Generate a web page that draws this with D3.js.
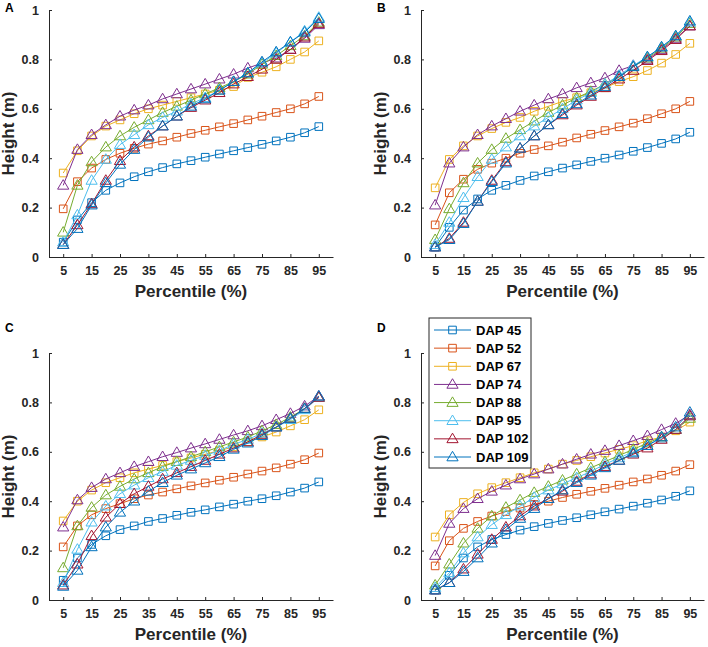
<!DOCTYPE html>
<html>
<head>
<meta charset="utf-8">
<script src="https://cdn.jsdelivr.net/npm/d3@7"></script>
<style>
  html, body { margin: 0; padding: 0; background: #fff; }
  svg { display: block; font-family: "Liberation Sans", Arial, sans-serif; }
</style>
</head>
<body>
<svg id="chart" width="708" height="647"></svg>
<script>
// ---------------- DATA ----------------
const percentiles = [5, 10, 15, 20, 25, 30, 35, 40, 45, 50, 55, 60, 65, 70, 75, 80, 85, 90, 95];
const xTicks = [5, 15, 25, 35, 45, 55, 65, 75, 85, 95];
const yTicks = [0, 0.2, 0.4, 0.6, 0.8, 1];
const seriesNames = ["DAP 45", "DAP 52", "DAP 67", "DAP 74", "DAP 88", "DAP 95", "DAP 102", "DAP 109"];
const seriesMarkers = ["square", "square", "square", "triangle", "triangle", "triangle", "triangle", "triangle"];
const seriesColors = ["#0072BD", "#D95319", "#EDB120", "#7E2F8E", "#77AC30", "#4DBEEE", "#A2142F", "#0072BD"];
const panelLetters = ["A", "B", "C", "D"];

// each panel: one row per series (DAP 45 ... DAP 109), values at each percentile
const panelA = [
  [0.06, 0.15, 0.22, 0.27, 0.30, 0.325, 0.345, 0.362, 0.377, 0.39, 0.404, 0.417, 0.43, 0.443, 0.456, 0.47, 0.485, 0.503, 0.528],
  [0.195, 0.305, 0.36, 0.395, 0.42, 0.44, 0.457, 0.47, 0.485, 0.50, 0.513, 0.527, 0.54, 0.555, 0.57, 0.585, 0.60, 0.62, 0.65],
  [0.34, 0.43, 0.49, 0.53, 0.555, 0.58, 0.60, 0.615, 0.63, 0.645, 0.66, 0.675, 0.69, 0.727, 0.748, 0.77, 0.80, 0.83, 0.875],
  [0.29, 0.435, 0.495, 0.535, 0.57, 0.595, 0.615, 0.64, 0.66, 0.68, 0.70, 0.72, 0.74, 0.765, 0.785, 0.805, 0.84, 0.885, 0.94],
  [0.10, 0.29, 0.385, 0.445, 0.49, 0.525, 0.555, 0.585, 0.61, 0.635, 0.66, 0.685, 0.71, 0.74, 0.78, 0.815, 0.855, 0.895, 0.95],
  [0.06, 0.17, 0.31, 0.395, 0.455, 0.495, 0.535, 0.565, 0.59, 0.62, 0.645, 0.675, 0.71, 0.745, 0.785, 0.825, 0.87, 0.915, 0.97],
  [0.05, 0.13, 0.215, 0.31, 0.39, 0.445, 0.49, 0.53, 0.57, 0.605, 0.635, 0.665, 0.70, 0.73, 0.76, 0.80, 0.84, 0.89, 0.945],
  [0.05, 0.115, 0.21, 0.30, 0.375, 0.435, 0.485, 0.53, 0.57, 0.61, 0.64, 0.675, 0.71, 0.745, 0.79, 0.83, 0.87, 0.91, 0.965]
];
const panelB = [
  [0.04, 0.12, 0.19, 0.235, 0.27, 0.29, 0.31, 0.328, 0.345, 0.36, 0.373, 0.387, 0.40, 0.413, 0.428, 0.443, 0.46, 0.478, 0.505],
  [0.13, 0.26, 0.315, 0.355, 0.38, 0.40, 0.42, 0.435, 0.45, 0.465, 0.482, 0.497, 0.512, 0.527, 0.542, 0.56, 0.58, 0.60, 0.63],
  [0.28, 0.395, 0.45, 0.49, 0.52, 0.545, 0.565, 0.59, 0.61, 0.63, 0.645, 0.665, 0.685, 0.71, 0.73, 0.755, 0.785, 0.82, 0.865],
  [0.21, 0.38, 0.445, 0.495, 0.53, 0.56, 0.59, 0.615, 0.64, 0.66, 0.685, 0.705, 0.725, 0.755, 0.775, 0.80, 0.84, 0.885, 0.935],
  [0.07, 0.195, 0.30, 0.38, 0.435, 0.48, 0.515, 0.55, 0.585, 0.615, 0.645, 0.67, 0.70, 0.73, 0.77, 0.805, 0.845, 0.89, 0.945],
  [0.05, 0.14, 0.24, 0.325, 0.395, 0.445, 0.49, 0.53, 0.565, 0.60, 0.635, 0.665, 0.70, 0.735, 0.775, 0.81, 0.85, 0.895, 0.95],
  [0.04, 0.075, 0.14, 0.225, 0.31, 0.385, 0.44, 0.49, 0.535, 0.575, 0.615, 0.65, 0.685, 0.72, 0.755, 0.795, 0.835, 0.88, 0.935],
  [0.04, 0.07, 0.135, 0.225, 0.305, 0.38, 0.44, 0.49, 0.535, 0.58, 0.62, 0.655, 0.69, 0.73, 0.77, 0.81, 0.85, 0.895, 0.955]
];
const panelC = [
  [0.08, 0.17, 0.225, 0.26, 0.285, 0.30, 0.318, 0.33, 0.343, 0.355, 0.365, 0.377, 0.388, 0.40, 0.41, 0.422, 0.437, 0.453, 0.478],
  [0.215, 0.30, 0.345, 0.37, 0.39, 0.41, 0.425, 0.437, 0.45, 0.462, 0.474, 0.485, 0.497, 0.51, 0.522, 0.535, 0.55, 0.568, 0.595],
  [0.32, 0.40, 0.445, 0.475, 0.495, 0.515, 0.53, 0.545, 0.56, 0.575, 0.59, 0.605, 0.62, 0.64, 0.66, 0.68, 0.705, 0.73, 0.77],
  [0.295, 0.405, 0.455, 0.49, 0.515, 0.54, 0.56, 0.58, 0.597, 0.615, 0.632, 0.65, 0.668, 0.685, 0.705, 0.73, 0.755, 0.785, 0.825],
  [0.13, 0.30, 0.375, 0.425, 0.46, 0.49, 0.515, 0.54, 0.56, 0.58, 0.60, 0.62, 0.64, 0.66, 0.685, 0.71, 0.74, 0.775, 0.82],
  [0.07, 0.205, 0.315, 0.38, 0.43, 0.465, 0.495, 0.52, 0.545, 0.565, 0.585, 0.605, 0.63, 0.65, 0.675, 0.70, 0.73, 0.77, 0.82],
  [0.06, 0.145, 0.26, 0.335, 0.39, 0.43, 0.46, 0.49, 0.515, 0.54, 0.565, 0.59, 0.615, 0.64, 0.67, 0.70, 0.735, 0.775, 0.82],
  [0.055, 0.12, 0.215, 0.295, 0.355, 0.40, 0.44, 0.475, 0.505, 0.53, 0.555, 0.58, 0.61, 0.635, 0.665, 0.70, 0.735, 0.775, 0.825]
];
const panelD = [
  [0.04, 0.10, 0.17, 0.215, 0.245, 0.265, 0.283, 0.297, 0.31, 0.322, 0.333, 0.345, 0.357, 0.368, 0.38, 0.392, 0.405, 0.42, 0.442],
  [0.138, 0.24, 0.29, 0.318, 0.34, 0.358, 0.372, 0.387, 0.40, 0.415, 0.428, 0.44, 0.452, 0.465, 0.478, 0.49, 0.505, 0.522, 0.548],
  [0.255, 0.345, 0.395, 0.43, 0.455, 0.475, 0.495, 0.515, 0.53, 0.55, 0.565, 0.58, 0.595, 0.61, 0.625, 0.645, 0.66, 0.685, 0.72],
  [0.18, 0.31, 0.37, 0.41, 0.44, 0.465, 0.49, 0.51, 0.53, 0.55, 0.57, 0.59, 0.605, 0.625, 0.645, 0.665, 0.69, 0.715, 0.75],
  [0.06, 0.145, 0.23, 0.29, 0.34, 0.375, 0.405, 0.435, 0.46, 0.485, 0.51, 0.535, 0.56, 0.585, 0.61, 0.635, 0.66, 0.69, 0.735],
  [0.05, 0.11, 0.19, 0.255, 0.305, 0.345, 0.38, 0.415, 0.445, 0.47, 0.495, 0.52, 0.55, 0.575, 0.60, 0.625, 0.655, 0.69, 0.745],
  [0.04, 0.07, 0.125, 0.185, 0.245, 0.295, 0.34, 0.38, 0.41, 0.44, 0.48, 0.51, 0.54, 0.565, 0.59, 0.615, 0.65, 0.69, 0.745],
  [0.04, 0.07, 0.115, 0.17, 0.23, 0.285, 0.33, 0.37, 0.41, 0.445, 0.475, 0.505, 0.535, 0.565, 0.595, 0.625, 0.66, 0.70, 0.76]
];
const panelsData = [panelA, panelB, panelC, panelD];

// ---------------- LAYOUT ----------------
const svg = d3.select("#chart");
const axisColor = "#262626";
const panelBoxes = [
  { left: 49,  right: 333, top: 10,  bottom: 257 },
  { left: 421, right: 704, top: 10,  bottom: 257 },
  { left: 49,  right: 333, top: 353, bottom: 600 },
  { left: 421, right: 704, top: 353, bottom: 600 }
];

function markerPath(type) {
  if (type === "square") {
    const s = 3.8;
    return `M${-s},${-s}L${s},${-s}L${s},${s}L${-s},${s}Z`;
  }
  const w = 5.6, h = 9.5;
  return `M0,${-h * 0.6}L${w},${h * 0.4}L${-w},${h * 0.4}Z`;
}

panelsData.forEach((data, pi) => {
  const b = panelBoxes[pi];
  const x = d3.scaleLinear().domain([0, 100]).range([b.left, b.right]);
  const y = d3.scaleLinear().domain([0, 1]).range([b.bottom, b.top]);
  const g = svg.append("g");

  // x axis
  const xAxis = d3.axisBottom(x).tickValues(xTicks).tickSizeInner(-3).tickSizeOuter(0).tickPadding(9)
    .tickFormat(d3.format("d"));
  const gx = g.append("g").attr("transform", `translate(0,${b.bottom})`).call(xAxis);
  gx.select(".domain").attr("stroke", axisColor).attr("stroke-width", 1);
  gx.selectAll(".tick line").attr("stroke", axisColor);
  gx.selectAll(".tick text").attr("fill", axisColor).attr("font-size", "12.5px").attr("font-weight", "bold")
    .attr("font-family", "Liberation Sans, Arial, sans-serif");

  // y axis
  const yAxis = d3.axisLeft(y).tickValues(yTicks).tickSizeInner(-3).tickSizeOuter(0).tickPadding(10)
    .tickFormat(d => d === 0 ? "0" : d === 1 ? "1" : d3.format(".1f")(d));
  const gy = g.append("g").attr("transform", `translate(${b.left},0)`).call(yAxis);
  gy.select(".domain").attr("stroke", axisColor).attr("stroke-width", 1);
  gy.selectAll(".tick line").attr("stroke", axisColor);
  gy.selectAll(".tick text").attr("fill", axisColor).attr("font-size", "12.5px").attr("font-weight", "bold")
    .attr("font-family", "Liberation Sans, Arial, sans-serif");

  // axis labels
  g.append("text")
    .attr("x", (b.left + b.right) / 2).attr("y", b.bottom + 40)
    .attr("text-anchor", "middle").attr("font-size", "17px").attr("font-weight", "bold")
    .attr("fill", axisColor).text("Percentile (%)");
  g.append("text")
    .attr("transform", `translate(${b.left - 35},${(b.top + b.bottom) / 2}) rotate(-90)`)
    .attr("text-anchor", "middle").attr("font-size", "17px").attr("font-weight", "bold")
    .attr("fill", axisColor).text("Height (m)");

  // panel letter
  g.append("text")
    .attr("x", b.left - 44).attr("y", b.top + (pi < 2 ? 2 : -21))
    .attr("font-size", "12px").attr("font-weight", "bold").attr("fill", "#000")
    .text(panelLetters[pi]);

  // series
  const line = d3.line().x((d, i) => x(percentiles[i])).y(d => y(d));
  data.forEach((vals, si) => {
    const sg = g.append("g");
    sg.append("path").datum(vals).attr("d", line)
      .attr("fill", "none").attr("stroke", seriesColors[si]).attr("stroke-width", 1);
    sg.selectAll("path.mk").data(vals).enter().append("path").attr("class", "mk")
      .attr("d", markerPath(seriesMarkers[si]))
      .attr("transform", (d, i) => `translate(${x(percentiles[i])},${y(d)})`)
      .attr("fill", "none").attr("stroke", seriesColors[si]).attr("stroke-width", 1);
  });
});

// ---------------- LEGEND (in panel D) ----------------
const leg = svg.append("g");
const legBox = { x: 429, y: 318, w: 102, h: 150 };
leg.append("rect").attr("x", legBox.x).attr("y", legBox.y).attr("width", legBox.w).attr("height", legBox.h)
  .attr("fill", "#fff").attr("stroke", "#262626").attr("stroke-width", 1);
const legY = d3.scalePoint().domain(seriesNames).range([330, 457]);
seriesNames.forEach((name, si) => {
  const cy = legY(name);
  leg.append("line").attr("x1", 434).attr("x2", 471).attr("y1", cy).attr("y2", cy)
    .attr("stroke", seriesColors[si]).attr("stroke-width", 1);
  leg.append("path").attr("d", markerPath(seriesMarkers[si]))
    .attr("transform", `translate(452.5,${cy})`)
    .attr("fill", "none").attr("stroke", seriesColors[si]).attr("stroke-width", 1);
  leg.append("text").attr("x", 476).attr("y", cy).attr("dy", "0.35em")
    .attr("font-size", "13px").attr("font-weight", "bold").attr("fill", "#000").text(name);
});
</script>
</body>
</html>
